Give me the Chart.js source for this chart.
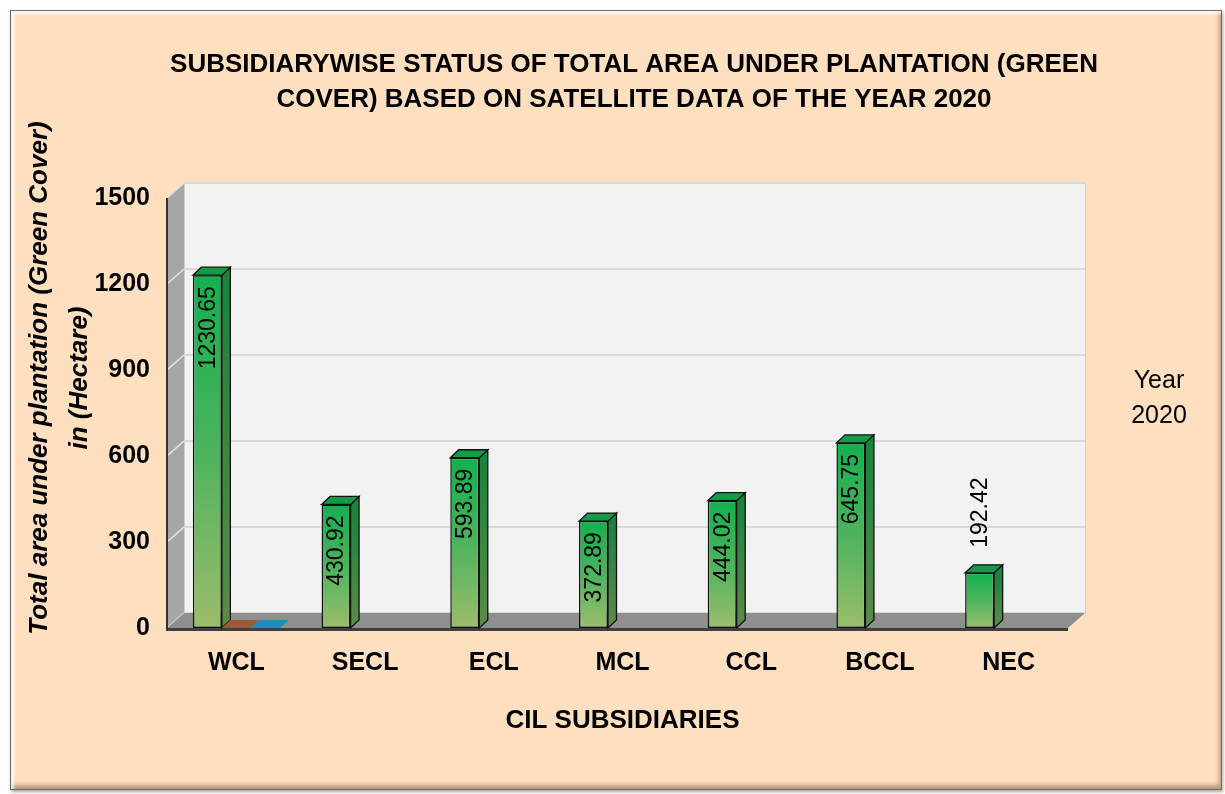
<!DOCTYPE html>
<html><head><meta charset="utf-8">
<script src="https://cdn.jsdelivr.net/npm/chart.js@4.4.1/dist/chart.umd.min.js"></script>
<style>
html,body{margin:0;padding:0;background:#fff;width:1225px;height:794px;overflow:hidden}
#frame{position:absolute;left:10px;top:10px;width:1210px;height:778px;background:#FEE0C1;border:1px solid #6b6b6b;
 box-shadow: inset 3px 3px 3px rgba(255,255,255,0.75), inset -2px -4px 4px rgba(130,95,60,0.55), 1px 2px 3px rgba(0,0,0,0.35);}
#wrap{position:absolute;left:0;top:0;width:1225px;height:794px}
canvas{display:block}
</style></head>
<body><div id="frame"></div><div id="wrap"><canvas id="c" width="1225" height="794" style="width:1225px;height:794px"></canvas></div>
<script>
const categories = ['WCL','SECL','ECL','MCL','CCL','BCCL','NEC'];
const year2020 = [1230.65, 430.92, 593.89, 372.89, 444.02, 645.75, 192.42];
const series2 = [0, null, null, null, null, null, null];
const series3 = [0, null, null, null, null, null, null];
const yTicks = [0, 300, 600, 900, 1200, 1500];
const titleLines = ['SUBSIDIARYWISE STATUS OF TOTAL AREA UNDER PLANTATION (GREEN', 'COVER) BASED ON SATELLITE DATA OF THE YEAR 2020'];
const yTitleLines = ['Total area under plantation (Green Cover)', 'in (Hectare)'];
const xTitle = 'CIL SUBSIDIARIES';
const legendLines = ['Year', '2020'];

const FONT = '"Liberation Sans", Arial, sans-serif';
const DX = 17, DY = -15, SHIFT = -5;   // wall depth
const BX = 8.5, BY = -8;              // bar depth

function poly(ctx, pts, fill, stroke, lw) {
  ctx.beginPath();
  ctx.moveTo(pts[0][0], pts[0][1]);
  for (let i = 1; i < pts.length; i++) ctx.lineTo(pts[i][0], pts[i][1]);
  ctx.closePath();
  if (fill) { ctx.fillStyle = fill; ctx.fill(); }
  if (stroke) { ctx.strokeStyle = stroke; ctx.lineWidth = lw || 1; ctx.stroke(); }
}

const wallsPlugin = {
  id: 'walls',
  beforeDatasetsDraw(chart) {
    const ctx = chart.ctx, ys = chart.scales.y, ca = chart.chartArea;
    const x0 = ca.left + SHIFT, x1 = ca.right + SHIFT;
    const yb = ys.getPixelForValue(yTicks[0]), yt = ys.getPixelForValue(yTicks[yTicks.length - 1]);
    ctx.save();
    ctx.fillStyle = '#F2F2F2';
    ctx.fillRect(x0 + DX, yt + DY, x1 - x0, yb - yt);
    ctx.strokeStyle = '#D0D0D0'; ctx.lineWidth = 1;
    ctx.strokeRect(x0 + DX + 0.5, yt + DY + 0.5, x1 - x0, yb - yt);
    poly(ctx, [[x0, yt], [x0 + DX, yt + DY], [x0 + DX, yb + DY], [x0, yb]], '#A6A6A6');
    yTicks.forEach(v => {
      const py = ys.getPixelForValue(v);
      ctx.strokeStyle = '#D9D9D9'; ctx.lineWidth = 2;
      ctx.beginPath(); ctx.moveTo(x0 + DX, py + DY); ctx.lineTo(x1 + DX, py + DY); ctx.stroke();
      ctx.strokeStyle = '#E6E6E6'; ctx.lineWidth = 1.5;
      ctx.beginPath(); ctx.moveTo(x0, py); ctx.lineTo(x0 + DX, py + DY); ctx.stroke();
    });
    poly(ctx, [[x0, yb], [x0 + DX, yb + DY], [x1 + DX, yb + DY], [x1, yb]], '#8F8F8F');
    ctx.fillStyle = '#3F3F3F';
    ctx.fillRect(x0 - 1, yb, x1 - x0 + 1, 3);
    ctx.strokeStyle = '#333'; ctx.lineWidth = 2;
    ctx.beginPath(); ctx.moveTo(x0, yt); ctx.lineTo(x0, yb + 2); ctx.stroke();
    ctx.restore();
  }
};

const barsPlugin = {
  id: 'bars3d',
  afterDatasetsDraw(chart) {
    const ctx = chart.ctx;
    const zeroColors = [null, '#9C5B33', '#1E8DBE'];
    ctx.save();
    chart.data.datasets.forEach((ds, di) => {
      const meta = chart.getDatasetMeta(di);
      meta.data.forEach((el, i) => {
        const v = ds.data[i];
        if (v === null || v === undefined) return;
        const p = el.getProps(['x', 'y', 'base', 'width'], true);
        const l = p.x - p.width / 2, r = p.x + p.width / 2, top = p.y, base = p.base;
        if (di === 0) {
          const g = ctx.createLinearGradient(0, top, 0, base);
          g.addColorStop(0, '#17843C'); g.addColorStop(1, '#5E8A4A');
          poly(ctx, [[r, top], [r + BX, top + BY], [r + BX, base + BY], [r, base]], g, '#111', 1.3);
          poly(ctx, [[l, top], [l + BX, top + BY], [r + BX, top + BY], [r, top]], '#149B46', '#111', 1.3);
        } else {
          poly(ctx, [[l, base], [l + BX, base + BY], [r + BX, base + BY], [r, base]], zeroColors[di]);
        }
      });
    });
    const meta0 = chart.getDatasetMeta(0);
    ctx.font = '23px ' + FONT;
    ctx.fillStyle = '#000';
    ctx.textBaseline = 'middle';
    meta0.data.forEach((el, i) => {
      const txt = year2020[i].toFixed(2);
      const w = ctx.measureText(txt).width;
      const p = el.getProps(['x', 'y', 'base'], true);
      ctx.save();
      if (p.base - p.y > w + 20) {
        ctx.translate(p.x, p.y + 11);
        ctx.rotate(-Math.PI / 2);
        ctx.textAlign = 'right';
      } else {
        ctx.translate(p.x, p.y - 25);
        ctx.rotate(-Math.PI / 2);
        ctx.textAlign = 'left';
      }
      ctx.fillText(txt, 0, 1);
      ctx.restore();
    });
    ctx.restore();
  }
};

const textPlugin = {
  id: 'extraText',
  afterDraw(chart) {
    const ctx = chart.ctx;
    ctx.save();
    ctx.fillStyle = '#000';
    ctx.textAlign = 'center';
    ctx.textBaseline = 'middle';
    ctx.font = 'italic bold 26px ' + FONT;
    const cy = 378;
    yTitleLines.forEach((t, i) => {
      ctx.save();
      ctx.translate(40 + i * 40, cy);
      ctx.rotate(-Math.PI / 2);
      ctx.fillText(t, 0, 0);
      ctx.restore();
    });
    ctx.font = '25px ' + FONT;
    legendLines.forEach((t, i) => ctx.fillText(t, 1159, 381 + i * 35));
    ctx.restore();
  }
};

function frontGradient(c) {
  const chart = c.chart;
  if (!chart.chartArea || c.raw == null) return '#1CB050';
  const ys = chart.scales.y;
  const top = ys.getPixelForValue(c.raw), bot = ys.getPixelForValue(0);
  if (bot - top < 1) return '#1CB050';
  const g = chart.ctx.createLinearGradient(0, top, 0, bot);
  g.addColorStop(0, '#12B14E');
  g.addColorStop(0.5, '#4DB35E');
  g.addColorStop(1, '#9CBD6C');
  return g;
}

new Chart(document.getElementById('c'), {
  type: 'bar',
  data: {
    labels: categories,
    datasets: [
      { label: 'Year 2020', data: year2020, backgroundColor: frontGradient, borderColor: '#111', borderWidth: 1.5, borderSkipped: false },
      { label: 'Series 2', data: series2, backgroundColor: '#9C5B33', borderWidth: 0 },
      { label: 'Series 3', data: series3, backgroundColor: '#1E8DBE', borderWidth: 0 }
    ]
  },
  options: {
    responsive: false,
    devicePixelRatio: 1,
    animation: false,
    layout: { padding: { left: 43, right: 0, top: 0, bottom: 0 } },
    datasets: { bar: { categoryPercentage: 0.676, barPercentage: 1.0 } },
    plugins: {
      legend: { display: false },
      tooltip: { enabled: false },
      title: {
        display: true,
        text: titleLines,
        color: '#000',
        font: { family: FONT, size: 26, weight: 'bold', lineHeight: 35 / 26 },
        padding: { top: 47.5, bottom: 80.5 }
      }
    },
    scales: {
      x: {
        offset: true,
        grid: { display: false, drawTicks: false },
        border: { display: false },
        ticks: { color: '#000', font: { family: FONT, size: 25, weight: 'bold' }, padding: 20 },
        title: { display: true, text: xTitle, color: '#000', font: { family: FONT, size: 26, weight: 'bold' }, padding: { top: 0, bottom: 58 } },
        afterFit(s) { s.height = 166; }
      },
      y: {
        min: 0, max: 1500,
        grid: { display: false, drawTicks: false },
        border: { display: false },
        afterBuildTicks(s) { s.ticks = yTicks.map(v => ({ value: v })); },
        ticks: { color: '#000', font: { family: FONT, size: 25, weight: 'bold' }, padding: 22, callback: v => String(v) },
        afterFit(s) { s.width = 129; }
      },
      y2: {
        type: 'linear', position: 'right', display: true,
        grid: { display: false, drawTicks: false },
        border: { display: false },
        ticks: { display: false },
        afterFit(s) { s.width = 152; }
      }
    }
  },
  plugins: [wallsPlugin, barsPlugin, textPlugin]
});
</script>
</body></html>
